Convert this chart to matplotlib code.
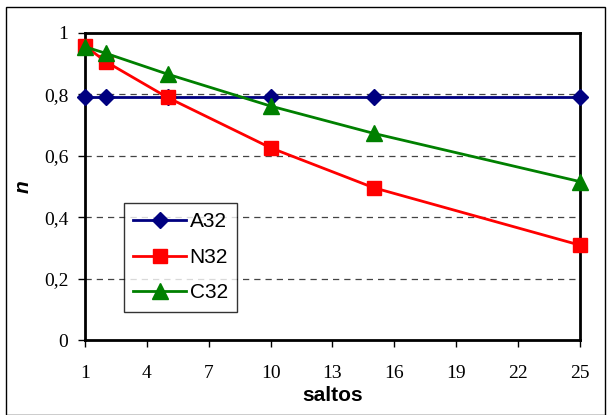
import matplotlib
matplotlib.use('Agg')
import matplotlib.pyplot as plt
from matplotlib.patches import Rectangle

saltos = [1, 2, 5, 10, 15, 25]
a32 = [0.79, 0.79, 0.79, 0.79, 0.79, 0.79]
n32 = [0.958, 0.907, 0.79, 0.626, 0.496, 0.309]
c32 = [0.955, 0.934, 0.866, 0.762, 0.673, 0.516]

xticks = [1, 4, 7, 10, 13, 16, 19, 22, 25]
yticks = [0, 0.2, 0.4, 0.6, 0.8, 1]
ylabels = ['0', '0,2', '0,4', '0,6', '0,8', '1']

fig = plt.figure(figsize=(6.13, 4.15), dpi=100)
ax = fig.add_axes([0.1387, 0.1807, 0.946 - 0.1387, 0.9205 - 0.1807])

# outer frame of the chart area
fig.patches.append(Rectangle((6/613, 0), (605-6)/613, (415-7)/415, transform=fig.transFigure,
                             fill=False, edgecolor='black', linewidth=1))

for y in [0.2, 0.4, 0.6, 0.8]:
    ax.axhline(y, color='#444444', linestyle=(0, (5, 4)), linewidth=0.9, zorder=1)

ax.plot(saltos, a32, color='#000080', marker='D', markersize=8, linewidth=2, label='A32',
        clip_on=False, zorder=3)
ax.plot(saltos, n32, color='#ff0000', marker='s', markersize=10, linewidth=2, label='N32',
        clip_on=False, zorder=3)
ax.plot(saltos, c32, color='#008000', marker='^', markersize=11, linewidth=2, label='C32',
        clip_on=False, zorder=3)

ax.set_xlim(1, 25)
ax.set_ylim(0, 1)
ax.set_xticks(xticks)
ax.set_xticklabels([str(t) for t in xticks], family='Liberation Serif', fontsize=14)
ax.set_yticks(yticks)
ax.set_yticklabels(ylabels, family='Liberation Serif', fontsize=14)
ax.tick_params(direction='out', length=5, width=1)
ax.tick_params(axis='x', pad=13)
ax.tick_params(axis='y', pad=7)
for s in ax.spines.values():
    s.set_linewidth(2)

ax.set_xlabel('saltos', family='Liberation Sans', fontweight='bold', fontsize=15, labelpad=3)
ax.set_ylabel('n', family='Liberation Sans', fontweight='bold', style='italic', fontsize=15,
              labelpad=8)

leg = ax.legend(loc='upper left', bbox_to_anchor=(0.079, 0.447), frameon=True, fancybox=False,
                prop={'family': 'Liberation Sans', 'size': 15}, handlelength=2.5,
                handletextpad=0.2, borderpad=0.45, labelspacing=0.8, borderaxespad=0)
leg.get_frame().set_edgecolor('black')
leg.get_frame().set_linewidth(1)

fig.savefig('out.png', dpi=100)
